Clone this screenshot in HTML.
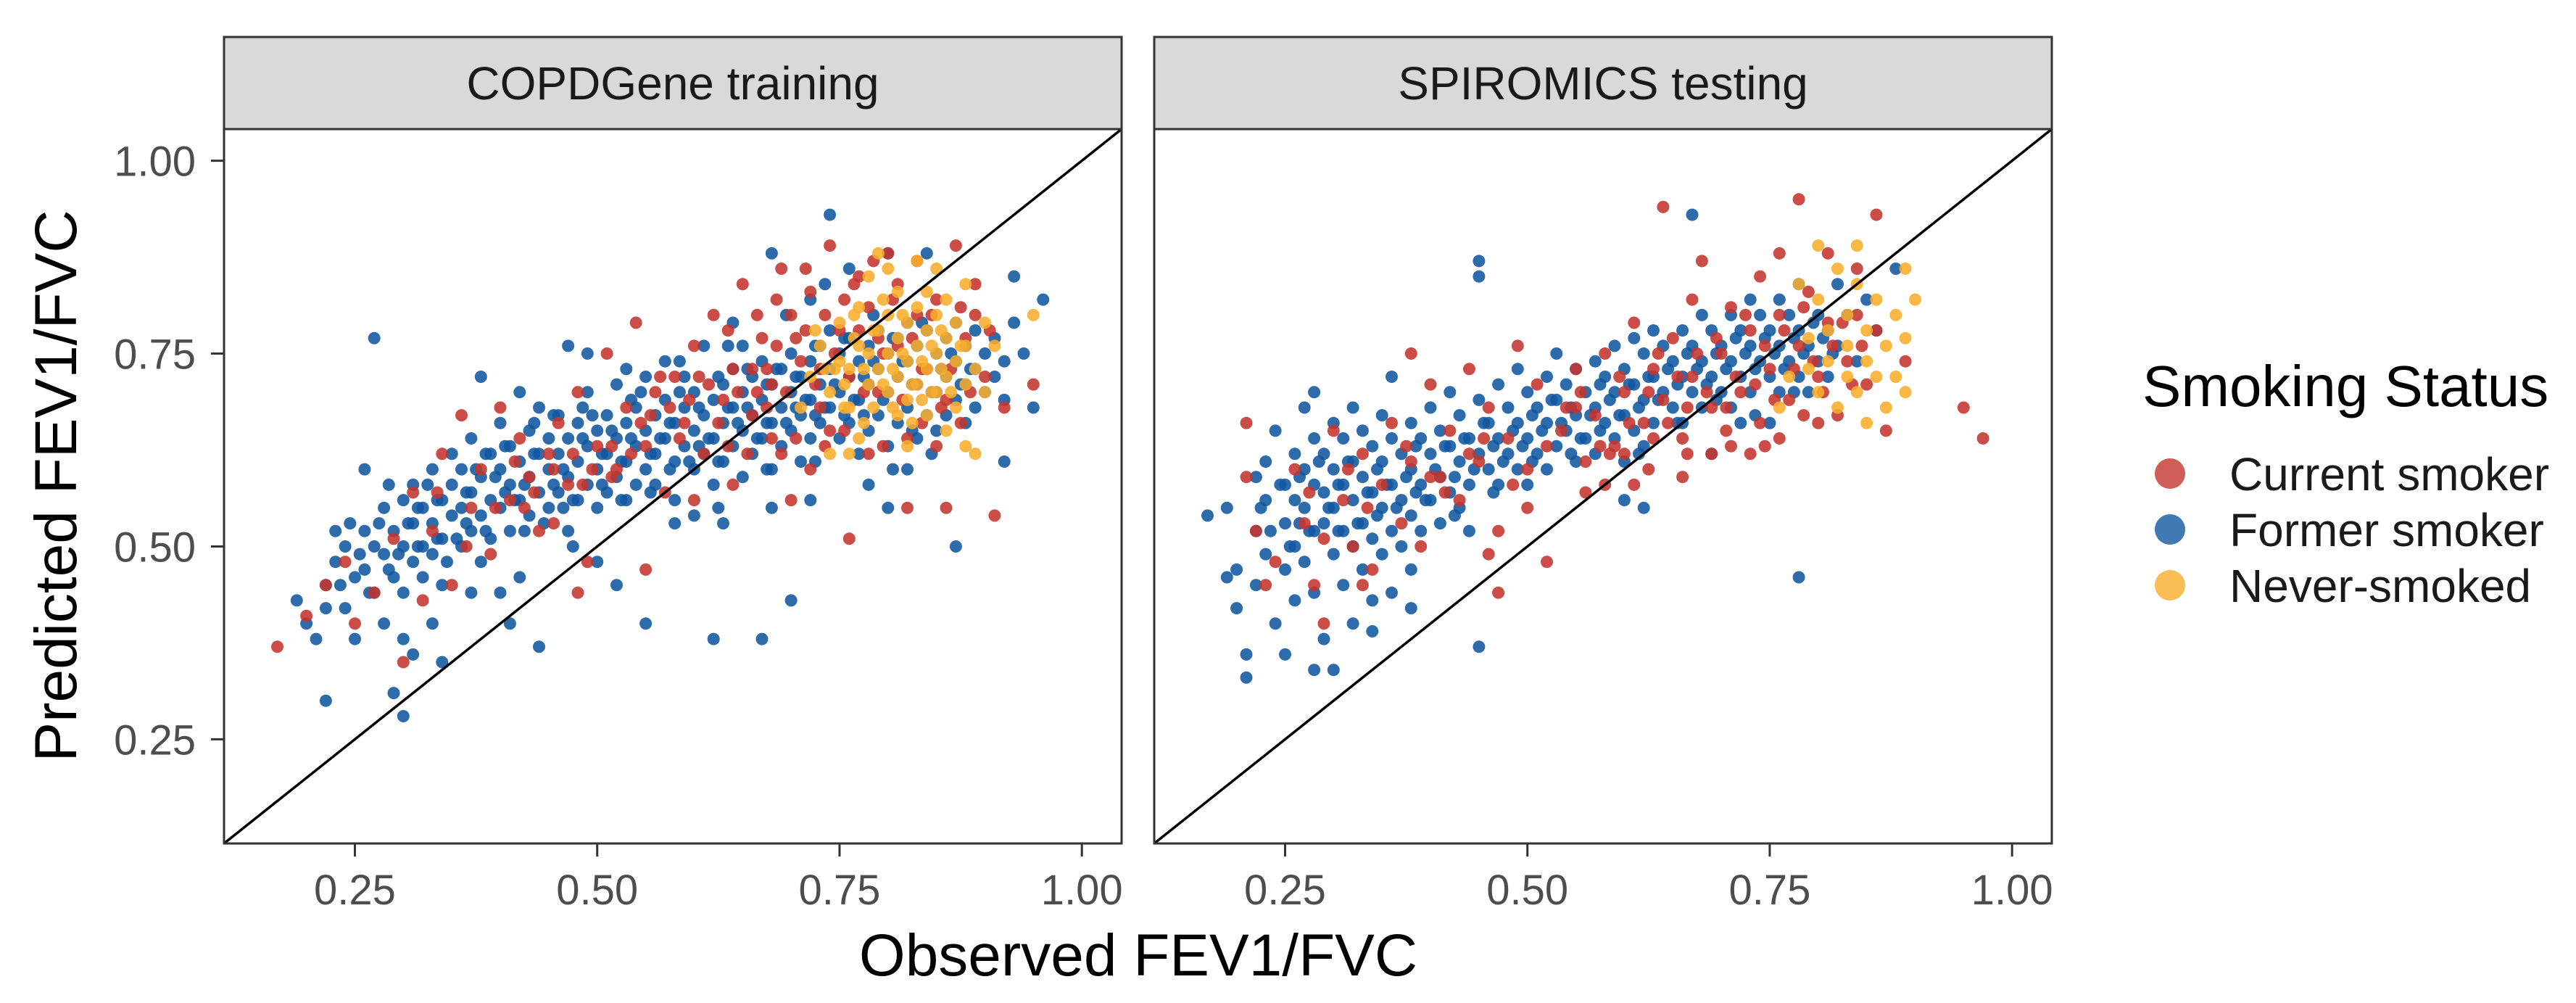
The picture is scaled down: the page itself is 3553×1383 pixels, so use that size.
<!DOCTYPE html>
<html><head><meta charset="utf-8"><style>
html,body{margin:0;padding:0;background:#fff}
svg{display:block}
text{font-family:"Liberation Sans",sans-serif}
</style></head><body>
<svg id="chart" width="3553" height="1383" viewBox="0 0 3553 1383" xmlns="http://www.w3.org/2000/svg">
<g id="root"></g>
</svg>
<script>
const panelTitles = ["COPDGene training", "SPIROMICS testing"];
const ticks = [0.25, 0.5, 0.75, 1.0];
const tickLabels = ["0.25", "0.50", "0.75", "1.00"];
const seriesNames = ["Current smoker", "Former smoker", "Never-smoked"];
const seriesColors = ["#c4342d", "#11579f", "#f8ad2c"];
const domain = [0.115, 1.041];

const p1Former = "19,43 20,40 21,38 22,42 22,45 23,52 23,48 24,50 24,42 25,46 22,30 25,38 26,52 26,47 27,50 27,44 28,55 28,49 28,40 29,52 29,46 30,56 30,50 30,44 31,53 31,48 31,58 32,55 32,50 32,46 33,53 33,60 33,49 34,56 34,51 34,45 35,58 35,54 35,62 26,60 27,77 30,38 31,36 33,40 30,28 34,35 29,31 36,55 36,50 36,60 37,57 37,52 37,64 38,59 38,54 38,48 39,62 39,56 39,51 40,60 40,55 40,66 41,58 41,52 41,63 42,61 42,56 42,70 43,59 43,54 43,65 44,62 44,57 44,68 45,60 45,55 45,64 38,72 40,44 41,40 42,46 44,37 37,44 46,62 46,57 46,67 47,64 47,59 47,52 48,66 48,61 48,56 49,63 49,58 49,70 50,65 50,60 50,55 51,67 51,62 51,57 52,64 52,59 52,71 53,66 53,61 53,56 54,68 54,63 54,58 55,65 55,60 55,72 47,76 49,75 50,48 52,45 55,40 53,73 56,67 56,62 56,58 57,69 57,64 57,74 58,66 58,61 58,56 59,68 59,63 59,72 60,70 60,65 60,60 61,67 61,62 61,76 62,69 62,64 62,58 63,71 63,66 63,61 64,73 64,68 64,63 65,70 65,65 65,59 58,53 60,54 62,38 63,53 65,76 64,79 66,72 66,67 66,62 67,74 67,69 67,64 68,71 68,66 68,60 69,73 69,68 69,63 70,75 70,70 70,65 71,72 71,67 71,61 72,74 72,69 72,64 73,76 73,71 73,66 74,78 74,73 74,68 75,75 75,70 75,64 67,38 70,43 68,55 72,56 74,93 72,82 68,88 76,77 76,72 76,66 77,74 77,69 77,62 78,76 78,71 78,65 79,78 79,73 79,67 80,75 80,70 80,63 81,77 81,72 81,66 82,79 82,74 82,68 83,76 83,71 83,64 84,78 84,73 84,67 85,75 85,70 85,65 78,58 80,55 82,60 84,88 87,50 76,86 80,88 86,77 86,72 86,67 87,79 87,74 87,69 88,76 88,71 88,66 89,78 89,73 89,68 90,75 90,70 91,77 91,72 92,74 92,69 93,85 93,79 94,75 95,68 96,82 92,61";
const p1FormerB = "23.5,45 24.5,53 25.5,49 26.5,44 27.5,53 28.5,58 29.5,49 30.5,53 31.5,50 32.5,58 33.5,56 34.5,48 35.5,51 36.5,57 37.5,60 38.5,52 39.5,59 40.5,63 41.5,56 42.5,58 43.5,62 44.5,53 45.5,67 46.5,60 47.5,56 48.5,64 49.5,67 50.5,58 51.5,65 52.5,61 53.5,64 54.5,70 55.5,57 56.5,64 57.5,66 58.5,70 59.5,61 60.5,68 61.5,64 62.5,72 63.5,68 64.5,66 65.5,73 66.5,64 67.5,71 68.5,73 69.5,66 70.5,72 71.5,69 72.5,76 73.5,68 74.5,71 75.5,77 76.5,69 77.5,72 78.5,74 79.5,69 80.5,77 81.5,74 82.5,71 83.5,79 84.5,70 85.5,73 86.5,75 87.5,71 88.5,73 40.5,57 45.5,58 50.5,62 55.5,62 60.5,63 65.5,68 70.5,68 75.5,67 36.5,53 31.5,55 46.5,55 52.5,56 57.5,60 62.5,61 67.5,66 72.5,67 77.5,67 82.5,65 69.5,80 73.5,84 78.5,80 63.5,76 58.5,74 53.5,69 48.5,68 43.5,66 38.5,62 33.5,51 28.5,47 42.5,52 47.5,50 62.5,55 67.5,60 72.5,61 80.5,60 84.5,62";
const p1Current = "17,37 20,41 22,45 24,48 25,40 27,44 29,51 30,35 31,57 32,43 33,52 34,62 35,45 36,67 37,55 38,60 39,49 40,68 41,56 42,64 43,59 44,52 45,62 46,66 47,58 48,70 49,48 50,63 51,75 52,60 53,68 54,79 55,63 56,70 57,57 58,72 59,66 60,76 61,62 62,80 63,69 64,73 65,84 66,67 67,77 68,71 69,86 70,80 71,74 72,83 73,68 74,89 75,78 76,72 77,85 78,81 79,70 80,88 81,76 82,64 83,87 84,73 85,82 86,69 87,89 88,77 89,84 90,72 91,54 92,68 95,71 72,60 76,51 82,55 85,63 70,56 60,56 55,47 48,44 64,58 68,64 74,65 78,62 66,73 79,77 83,80 73,73 77,78 81,84 89,80 86,55 69,62";
const p1CurrentB = "33.5,57 36.5,50 39.5,55 41.5,61 43.5,57 45.5,53 47.5,62 49.5,60 51.5,59 53.5,62 55.5,67 56.5,72 58.5,64 59.5,69 61.5,71 62.5,66 63.5,63 64.5,70 65.5,62 66.5,70 67.5,68 68.5,76 69.5,70 70.5,64 71.5,78 72.5,71 73.5,80 74.5,75 75.5,82 76.5,84 77.5,70 78.5,87 79.5,75 80.5,82 81.5,69 82.5,77 83.5,73 84.5,80 85.5,68 86.5,73 87.5,81 88.5,70 68.5,82 71.5,86 66.5,80 63.5,78 60.5,72 57.5,68 54.5,66 51.5,63 48.5,58 45.5,60 42.5,55 75.5,65 79.5,63 83.5,66 87.5,66 90.5,78 73.5,63 70.5,77 67.5,73";
const p1Never = "72,72 73,76 74,70 75,74 75,79 76,73 76,68 77,76 77,81 78,71 78,75 78,85 79,73 79,78 80,70 80,75 80,80 80,86 81,72 81,77 81,83 82,74 82,69 82,79 83,76 83,71 83,81 83,87 84,73 84,78 84,67 84,83 85,75 85,70 85,80 85,86 86,77 86,72 86,65 86,82 87,74 87,79 87,68 88,76 88,71 88,84 89,73 89,62 90,79 90,70 91,76 95,80 71,68 74,62 77,64 79,88 82,63 88,63 76,62 81,67";
const p1NeverB = "74.5,73 75.5,71 76.5,77 77.5,73 78.5,78 79.5,71 80.5,73 81.5,75 82.5,71 83.5,74 84.5,76 85.5,73 86.5,70 87.5,76 78.5,68 80.5,68 82.5,66 84.5,70 76.5,80 81.5,80 79.5,82 77.5,66 73.5,73 75.5,68 72.5,78 85.5,78 83.5,69";
const p2Former = "17,54 19,55 20,47 20,42 21,36 21,33 22,59 22,52 22,45 23,61 23,56 23,49 24,40 24,65 25,58 25,53 25,47 26,62 26,56 26,50 26,43 27,68 27,60 27,55 27,48 28,70 28,64 28,58 28,52 28,44 29,62 29,57 29,53 29,38 30,66 30,60 30,55 30,49 31,64 31,58 31,52 31,45 32,68 32,61 32,56 32,50 33,65 33,59 33,53 33,47 34,63 34,57 34,51 34,43 35,67 35,61 35,55 35,49 36,72 36,64 36,58 36,52 37,62 37,56 37,50 38,66 38,60 38,54 38,47 39,64 39,58 39,52 40,68 40,62 40,56 41,65 41,59 41,53 42,70 42,63 42,57 43,67 43,61 43,55 44,64 44,58 44,52 45,69 45,62 45,87 45,85 46,66 46,60 47,71 47,64 47,58 48,68 48,62 49,73 49,66 49,60 50,70 50,64 50,58 51,68 51,62 52,72 52,66 52,60 53,75 53,69 53,63 54,71 54,65 55,73 55,67 55,61 56,70 56,64 57,74 57,68 57,62 58,72 58,66 59,76 59,70 59,64 60,73 60,67 60,61 61,77 61,71 61,65 62,75 62,69 62,63 63,78 63,72 63,66 64,76 64,70 65,74 65,68 66,78 66,72 66,66 67,76 67,70 67,93 68,80 68,74 68,68 69,78 69,72 69,62 70,76 70,70 71,80 71,74 71,68 72,78 72,72 72,66 73,82 73,76 73,70 74,80 74,74 75,78 75,72 75,66 76,82 76,76 76,70 77,80 77,74 78,84 78,78 78,72 79,76 79,70 80,80 80,74 81,78 81,72 82,84 82,76 83,80 84,74 85,82 86,78 88,86 78,46 45,37 38,42 28,34 30,34 25,36 19,46 32,40 60,56 62,55 34,39 36,44";
const p2FormerB = "22.5,55 23.5,52 24.5,58 25.5,50 26.5,59 27.5,52 28.5,61 29.5,55 30.5,58 31.5,61 32.5,53 33.5,57 34.5,60 35.5,58 36.5,55 37.5,59 38.5,63 39.5,56 40.5,60 41.5,63 42.5,59 43.5,64 44.5,60 45.5,66 46.5,63 47.5,61 48.5,65 49.5,63 50.5,67 51.5,65 52.5,69 53.5,66 54.5,68 55.5,64 56.5,67 57.5,71 58.5,69 59.5,67 60.5,71 61.5,68 62.5,72 63.5,69 64.5,73 65.5,71 66.5,75 67.5,73 68.5,71 69.5,75 70.5,73 71.5,77 72.5,75 73.5,73 74.5,77 75.5,75 76.5,73 77.5,77 78.5,75 79.5,79 80.5,77 81.5,75 54.5,62 57.5,65 61.5,62 65.5,66 69.5,69 73.5,67 77.5,70 50.5,61 46.5,57 42.5,54 38.5,57 34.5,54 30.5,52 26.5,53";
const p2Current = "21,66 21,59 22,52 23,45 24,48 26,60 27,53 28,45 29,40 30,65 31,56 32,50 33,62 34,47 35,58 36,66 37,53 38,61 38,75 39,50 40,71 41,59 42,65 43,56 44,73 45,61 46,68 47,52 47,44 48,64 49,76 50,60 51,71 52,63 52,48 54,68 55,73 56,61 57,67 58,75 59,63 60,70 61,79 62,66 63,73 64,69 64,94 65,77 66,64 67,72 67,82 68,87 69,68 70,75 71,81 71,63 72,70 73,78 74,85 74,66 75,73 76,80 77,69 78,95 78,76 79,83 80,72 81,79 81,88 82,67 83,74 84,80 85,71 86,78 86,93 87,65 89,74 95,68 97,64 29,51 33,45 40,59 44,62 56,57 61,58 66,59 69,62 73,62 76,64 80,66 55,68 60,62 63,64 76,88 84,86 46,49 58,58 50,55";
const p2CurrentB = "53.5,65 55.5,70 57.5,63 59.5,72 60.5,66 62.5,70 63.5,75 64.5,66 65.5,72 66.5,68 67.5,75 68.5,70 69.5,77 70.5,68 71.5,72 72.5,80 73.5,71 74.5,76 75.5,69 76.5,78 77.5,73 78.5,81 79.5,74 80.5,70 81.5,76 82.5,79 83.5,71 84.5,76 48.5,58 45.5,64 41.5,57 37.5,63 33.5,55 31.5,60 27.5,57 58.5,62 62.5,60 66.5,62 70.5,65 74.5,63 78.5,67";
const p2Never = "78,84 79,77 79,73 80,82 80,70 81,78 81,74 82,86 82,68 83,80 83,76 83,72 84,84 84,70 85,78 85,74 85,66 86,82 86,72 87,76 87,68 88,80 88,72 89,86 89,77 89,70 90,82 80,89 84,89 76,68 77,72";

const panelData = [[p1Current, p1Former, p1Never],[p2Current, p2Former, p2Never]];
const panelDataB = [[p1CurrentB, p1FormerB, p1NeverB],[p2CurrentB, p2FormerB, ""]];

const NS = "http://www.w3.org/2000/svg";
const root = document.getElementById("root");
function mk(tag, attrs, parent, text){
  const e = document.createElementNS(NS, tag);
  for (const k in attrs) e.setAttribute(k, attrs[k]);
  if (text !== undefined) e.textContent = text;
  (parent||root).appendChild(e);
  return e;
}
function parse(s){ if(!s.trim()) return []; return s.trim().split(/\s+/).map(p=>p.split(",").map(v=>+v/100)); }

const panels = [{x0:309,x1:1547},{x0:1592,x1:2830}];
const y0 = 178, y1 = 1163;
const ys = v => y1 - (v-domain[0])/(domain[1]-domain[0])*(y1-y0);

panels.forEach((pp, pi) => {
  const xs = v => pp.x0 + (v-domain[0])/(domain[1]-domain[0])*(pp.x1-pp.x0);
  const g = mk("g", {});
  
  
  const strip = mk("rect", {x:pp.x0, y:51, width:pp.x1-pp.x0, height:y0-51, fill:"#d9d9d9", stroke:"#333", "stroke-width":3}, g);
  
  
  const st = mk("text", {x:(pp.x0+pp.x1)/2, y:137, "font-size":64, "text-anchor":"middle", fill:"#1a1a1a"}, g, panelTitles[pi]);
  
  
  const clip = mk("clipPath", {id:"clip"+pi}, g);
  mk("rect", {x:pp.x0, y:y0, width:pp.x1-pp.x0, height:y1-y0}, clip);
  const pts = mk("g", {"clip-path":"url(#clip"+pi+")"}, g);
  
  
  [1,0,2].forEach(si => {
    parse(panelData[pi][si]).concat(parse(panelDataB[pi][si])).forEach(([x,y]) => {
      const c = mk("circle", {cx:xs(x).toFixed(1), cy:ys(y).toFixed(1), r:8.5, fill:seriesColors[si], "fill-opacity":0.88}, pts);
      
      
    });
  });
  const dl = mk("line", {x1:xs(domain[0]), y1:ys(domain[0]), x2:xs(domain[1]), y2:ys(domain[1]), stroke:"#000", "stroke-width":3.5}, g);
  
  
  const fr = mk("rect", {x:pp.x0, y:y0, width:pp.x1-pp.x0, height:y1-y0, fill:"none", stroke:"#333", "stroke-width":3}, g);
  
  
  ticks.forEach((t, ti) => {
    const x = xs(t);
    mk("line", {x1:x, y1:y1, x2:x, y2:y1+18, stroke:"#333", "stroke-width":3}, g);
    const lb = mk("text", {x:x, y:1247, "font-size":58, "text-anchor":"middle", fill:"#4d4d4d"}, g, tickLabels[ti]);
    
    
  });
});
ticks.forEach((t, ti) => {
  const y = ys(t);
  mk("line", {x1:291, y1:y, x2:309, y2:y, stroke:"#333", "stroke-width":3});
  const lb = mk("text", {x:270, y:y+21, "font-size":58, "text-anchor":"end", fill:"#4d4d4d"}, root, tickLabels[ti]);
  
  
});
const xt = mk("text", {x:1570, y:1345, "font-size":82, "text-anchor":"middle", fill:"#000"}, root, "Observed FEV1/FVC");


const yt = mk("text", {x:0, y:0, "font-size":82, "text-anchor":"middle", fill:"#000", transform:"translate(105,670) rotate(-90)"}, root, "Predicted FEV1/FVC");


const lg = mk("g", {});


const ltitle = mk("text", {x:2955, y:560, "font-size":80, fill:"#000"}, lg, "Smoking Status");


seriesNames.forEach((n, i) => {
  const cy = 653 + i*77;
  const e = mk("g", {}, lg);
  
  
  mk("circle", {cx:2993, cy:cy, r:21, fill:seriesColors[i], "fill-opacity":0.8}, e);
  mk("text", {x:3075, y:cy+23, "font-size":64, fill:"#1a1a1a"}, e, n);
});
</script>
</body></html>
